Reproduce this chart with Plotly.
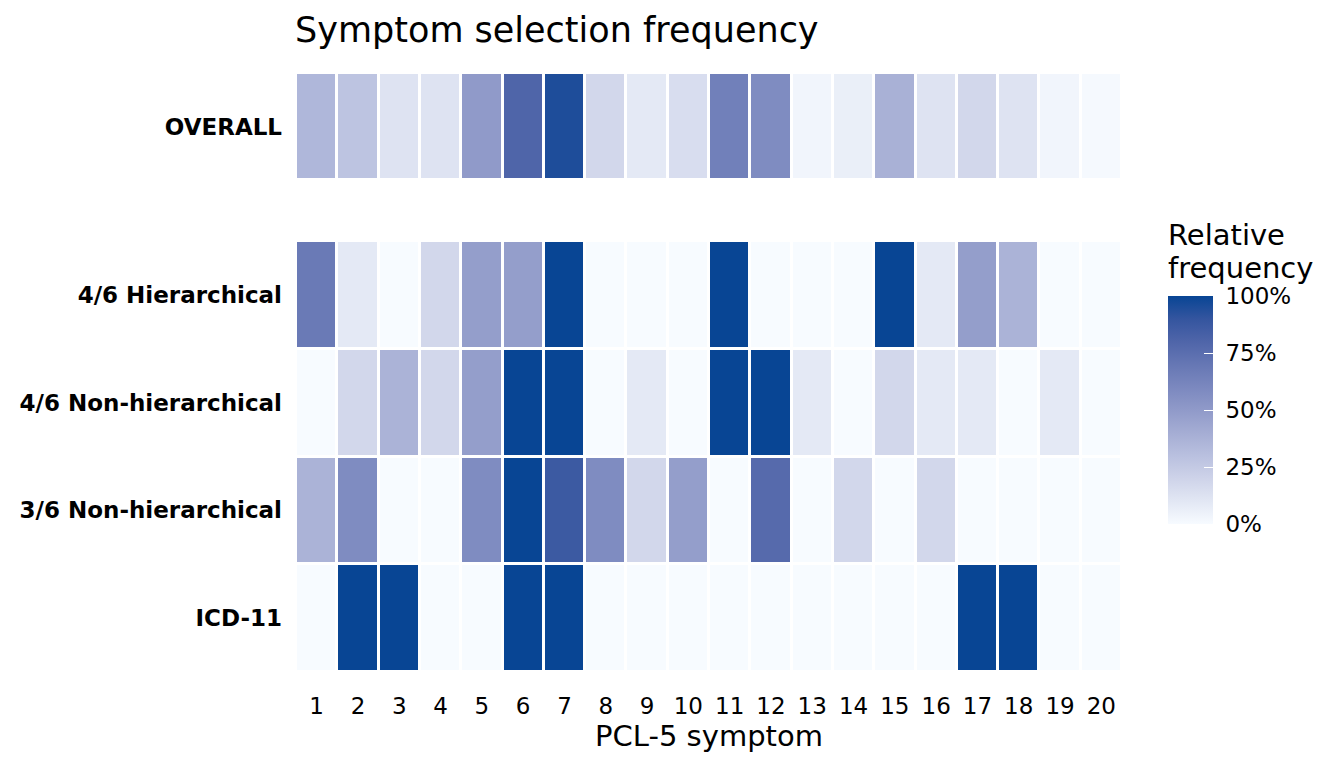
import numpy as np
import plotly.graph_objects as go

symptoms = [str(i) for i in range(1, 21)]
overall_label = ["OVERALL"]
overall_values = [0.35, 0.28, 0.12, 0.12, 0.50, 0.80, 0.95, 0.18, 0.09, 0.15,
                  0.65, 0.58, 0.03, 0.06, 0.38, 0.12, 0.18, 0.12, 0.03, 0.01]

methods = ["4/6 Hierarchical", "4/6 Non-hierarchical", "3/6 Non-hierarchical", "ICD-11"]
hier_46 = [0.68, 0.09, 0, 0.18, 0.48, 0.48, 1, 0, 0, 0,
           1, 0, 0, 0, 1, 0.09, 0.48, 0.37, 0, 0]
nonhier_46 = [0, 0.18, 0.37, 0.18, 0.48, 1, 1, 0, 0.09, 0,
              1, 1, 0.09, 0, 0.18, 0.09, 0.09, 0, 0.09, 0]
nonhier_36 = [0.37, 0.58, 0, 0, 0.58, 1, 0.87, 0.58, 0.18, 0.48,
              0, 0.77, 0, 0.18, 0, 0.18, 0, 0, 0, 0]
icd11 = [0, 1, 1, 0, 0, 1, 1, 0, 0, 0,
         0, 0, 0, 0, 0, 0, 1, 1, 0, 0]

tick_vals = [0, 0.25, 0.5, 0.75, 1]
tick_text = ["0%", "25%", "50%", "75%", "100%"]

LOW, HIGH = "#F7FBFF", "#084594"


# Lab interpolation (like ggplot2 scale_fill_gradient)
def hex2rgb(h):
    h = h.lstrip("#")
    return np.array([int(h[i:i + 2], 16) for i in (0, 2, 4)]) / 255.0


def srgb2lin(c):
    return np.where(c <= 0.04045, c / 12.92, ((c + 0.055) / 1.055) ** 2.4)


def lin2srgb(c):
    return np.where(c <= 0.0031308, 12.92 * c, 1.055 * np.power(np.clip(c, 0, None), 1 / 2.4) - 0.055)


M = np.array([[0.4124, 0.3576, 0.1805], [0.2126, 0.7152, 0.0722], [0.0193, 0.1192, 0.9505]])
Minv = np.linalg.inv(M)
WHITE = np.array([0.95047, 1.0, 1.08883])


def f(t):
    d = 6 / 29
    return np.where(t > d ** 3, np.cbrt(t), t / (3 * d * d) + 4 / 29)


def finv(t):
    d = 6 / 29
    return np.where(t > d, t ** 3, 3 * d * d * (t - 4 / 29))


def rgb2lab(rgb):
    xyz = M @ srgb2lin(rgb) / WHITE
    fx, fy, fz = f(xyz)
    return np.array([116 * fy - 16, 500 * (fx - fy), 200 * (fy - fz)])


def lab2rgb(lab):
    L, a, b = lab
    fy = (L + 16) / 116
    fx = fy + a / 500
    fz = fy - b / 200
    xyz = finv(np.array([fx, fy, fz])) * WHITE
    return np.clip(lin2srgb(Minv @ xyz), 0, 1)


lab_lo, lab_hi = rgb2lab(hex2rgb(LOW)), rgb2lab(hex2rgb(HIGH))
colorscale = []
for t in np.linspace(0, 1, 11):
    r, g, b = (lab2rgb(lab_lo + t * (lab_hi - lab_lo)) * 255).round().astype(int)
    colorscale.append([float(t), f"rgb({r},{g},{b})"])

fig = go.Figure()
fig.add_trace(go.Heatmap(
    z=[overall_values], x=symptoms, y=overall_label,
    coloraxis="coloraxis", xgap=3, ygap=3, xaxis="x", yaxis="y2",
    hovertemplate="Symptom %{x}<br>%{y}: %{z:.0%}<extra></extra>"))
fig.add_trace(go.Heatmap(
    z=[hier_46, nonhier_46, nonhier_36, icd11], x=symptoms, y=methods,
    coloraxis="coloraxis", xgap=3, ygap=3, xaxis="x", yaxis="y",
    hovertemplate="Symptom %{x}<br>%{y}: %{z:.0%}<extra></extra>"))

font = "DejaVu Sans"
H_PLOT = 599
fig.update_layout(
    width=1344, height=768,
    margin=dict(l=296, r=222, t=73, b=96),
    paper_bgcolor="white", plot_bgcolor="white",
    font=dict(family=font, color="black"),
    title=dict(text="Symptom selection frequency", x=295 / 1344, xanchor="left",
               y=1 - 30 / 768, yanchor="middle", yref="container",
               font=dict(size=35, family=font, color="black")),
    xaxis=dict(anchor="y", domain=[0, 1], showgrid=False, zeroline=False, showline=False,
               ticks="", tickfont=dict(size=23), type="category", ticklabelstandoff=18,
               title=dict(text="PCL-5 symptom", font=dict(size=29), standoff=6)),
    yaxis=dict(domain=[0, 431 / H_PLOT], showgrid=False, zeroline=False, showline=False,
               type="category", autorange="reversed", ticklabelstandoff=13,
               tickmode="array", tickvals=methods, ticktext=[f"<b>{m}</b>" for m in methods],
               tickfont=dict(size=23), ticks=""),
    yaxis2=dict(domain=[492 / H_PLOT, 1], anchor="x", showgrid=False, zeroline=False, showline=False,
                type="category", tickmode="array", tickvals=overall_label, ticklabelstandoff=13,
                ticktext=[f"<b>{m}</b>" for m in overall_label],
                tickfont=dict(size=23), ticks=""),
    coloraxis=dict(
        colorscale=colorscale, cmin=0, cmax=1,
        colorbar=dict(
            title=dict(text=""),
            x=(1168 - 296) / 826, xanchor="left", xref="paper",
            y=(672 - 410) / H_PLOT, yanchor="middle",
            thickness=45, thicknessmode="pixels", len=228, lenmode="pixels",
            outlinewidth=0, tickmode="array", tickvals=tick_vals,
            ticktext=["\u00a0" + t for t in tick_text],
            ticks="inside", tickcolor="white", ticklen=9, tickwidth=1,
            tickfont=dict(size=23), ypad=0, xpad=0)),
    annotations=[
        dict(text="Relative", xref="paper", yref="paper",
             x=(1166 - 296) / 826, xanchor="left", align="left",
             y=(672 - 235) / H_PLOT, yanchor="middle", showarrow=False,
             font=dict(size=29, family=font, color="black")),
        dict(text="frequency", xref="paper", yref="paper",
             x=(1166 - 296) / 826, xanchor="left", align="left",
             y=(672 - 268) / H_PLOT, yanchor="middle", showarrow=False,
             font=dict(size=29, family=font, color="black")),
    ],
)

fig.write_html("out.html")
